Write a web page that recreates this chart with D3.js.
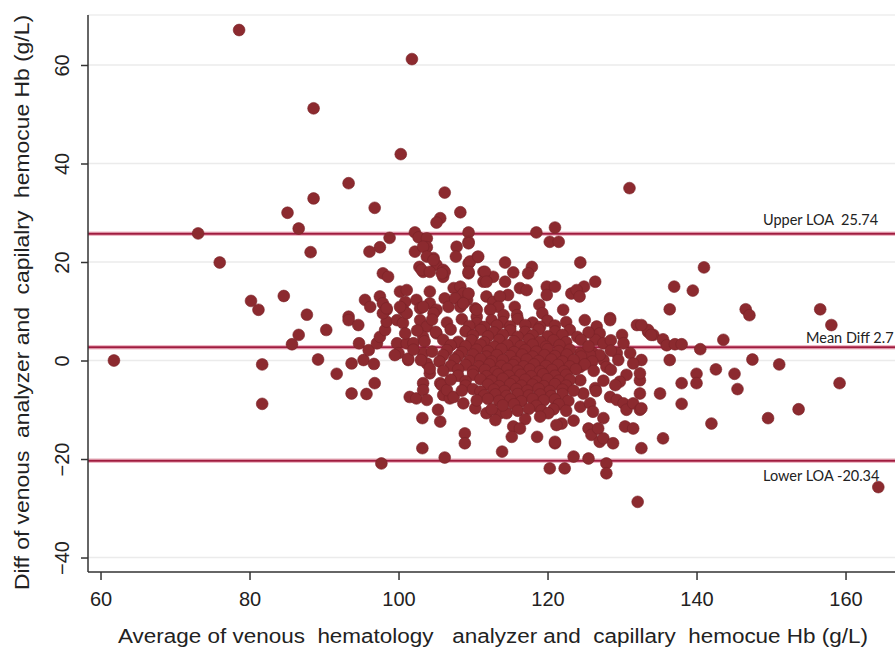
<!DOCTYPE html>
<html><head><meta charset="utf-8">
<script src="https://cdn.jsdelivr.net/npm/d3@7"></script>
<style>body{margin:0;background:#fff} svg{display:block}</style>
</head><body><svg id="c" width="895" height="648"></svg>
<script>
const xTicks=[60,80,100,120,140,160];
const yTicks=[-40,-20,0,20,40,60];
const loaValues=[25.74,2.7,-20.34];
const loaLabels=["Upper LOA  25.74","Mean Diff 2.7","Lower LOA -20.34"];
const xTitle="Average of venous  hematology   analyzer and  capillary  hemocue Hb (g/L)";
const yTitle="Diff of venous  analyzer and  capilalry  hemocue Hb (g/L)";

const pointsLeft=[[61.8,0],[73.1,25.8],[76,19.9],[78.6,67.1],[80.2,12.1],[81.2,10.3],[81.7,-0.8],[81.7,-8.8],[84.6,13.1],[85.1,30],[85.7,3.3],[86.6,5.2],[86.6,26.8],[87.7,9.3],[88.2,22],[88.6,32.9],[88.6,51.2],[89.2,0.2],[90.3,6.2],[91.7,-2.7],[93.3,36],[93.3,8.9],[93.3,8.2],[94.6,7.2],[94.7,3.5],[93.7,-0.6],[95.3,0.1],[93.7,-6.7],[95.7,-6.8],[95.5,12.3]];

const pointsUpper=[[96.2,10.9],[97.5,13],[97.9,11.6],[98.4,10.3],[96.8,31],[100.3,41.9],[101.8,61.2],[106.2,34.1],[108.3,30.1],[105.6,28.9],[105.1,28],[98.8,24.9],[97.5,23],[96.1,22.1],[102.2,26],[102.7,25],[103.8,24.8],[103.8,23],[102.2,22.1],[107.8,23.1],[107.7,21.1],[109.4,26],[109.4,24.1],[110.6,21],[104.7,20.8],[105.1,19.4],[106,18.4],[106,17],[102.8,19],[103.3,18],[109.4,19.7],[109.4,17.7],[97.9,17.7],[98.6,17],[100.2,14],[101.1,14.3],[100.9,11.9],[100.6,10.3],[102.4,12.3],[102.9,10.6],[104.2,14],[104.2,11.6],[105.1,10.3],[106.2,12.6],[106.7,10.9],[107.4,14.7],[108.3,15],[108.7,13.6],[109.2,12.3],[107.6,12.6],[108.3,10.9],[110.3,10.6],[110.5,8.9],
[131,35],[118.5,26],[121,27],[120.3,24.1],[121.5,24.1],[124.4,19.9],[126.4,16],[124.9,15],[114.3,19.9],[115.4,17.9],[111.4,18],[111.4,16],[112.7,17],[117.9,19],[117.4,17.7],[114.3,16],[114.7,13.3],[116.3,14.7],[117.2,14.3],[119.9,15],[121,15],[119.9,13.3],[123.2,13.6],[123.9,14.3],[124.3,13],[122.1,10.3],[118.9,11.3],[119.3,9.6],[128.4,8.6],[111.8,13],[112.7,11.9],[113.6,13],[113.4,10.9],[112.3,10.3],[114.1,9.2],[115.6,10.9],[115.9,9.2],[110.5,10.3],[109.4,13.6],[108.7,11.6],
[103.3,23.1],[103.8,21.1],[104.7,20.4],[106.2,18],[105.8,17.7],[103.1,18.4],[104.2,18],[109.4,23.8],[109.6,20.1],[109.4,18],[110.7,21.1],[111.6,18],[111.8,16]];

const pointsCore=[[96,2.1],[97.1,3.5],[97.5,4.8],[98.2,6.2],[98.4,7.9],[97.9,9.6],[98.4,10.6],[99.8,3.5],[100,1.5],[101.1,3.5],[101.3,0.1],[102,3.5],[99.8,8.2],[100.6,7.6],[100.9,5.5],[101.1,9.6],[100.2,10.9],[103.3,10.9],[102.9,8.2],[103.8,6.9],[103.3,4.8],[104.7,9.6],[105.1,5.5],[103.3,1.5],[103.8,-0.6],[104.2,-2.6],[103.3,-4.6],[101.5,-7.4],[102.4,-7.7],[103.3,-6],[103.8,-8],[96.8,-4.6],[96.7,-0.7],[99.5,1.1],[101.3,0.4],[104.2,-1.6],[105.6,-4.6],[106,-7],[106.9,-7.7],[105.8,-5],[106.5,-6],[107.4,-7.4],[108.7,-8.7],[110.3,-9.7],[105.3,-10],[105.6,-12.4],[103.2,-11.7],
[128.4,8.2],[132,7.2],[133.5,5.8],[134.2,5.2],[126.6,6.9],[127,5.5],[126.4,4.2],[127.5,3.5],[130,5.2],[130.2,3.5],[129.3,1.5],[131.1,1.5],[132.6,0.1],[131.5,-0.6],[126.1,1.5],[127.5,0.1],[127.9,-1.3],[124.4,1.5],[124.4,-1.3],[124.4,-4],[124.8,-6.7],[124.4,-9.4],[126.4,-5.6],[130.6,-2.9],[129.7,-4.3],[129.1,-5],[132.4,-4],[128.4,-7.4],[129.3,-8],[130.2,-8.7],[130.6,-10],[131.5,-8.7],[132.4,-10],[127,1.1],[125.7,1.1],[125.7,-8.7],[126.1,-10.4],[113.6,-10.7],[114.5,-10.7],[111.8,-10.7],
[104.5,8.3],[106.5,7.7],[108.5,8.4],[110.5,7.6],[112.5,8.2],[114,7.8],[116,8.4],[118,7.7],[120,8.1],[122.5,7.8],[125,8.2],
[109.5,7],[111.5,6.8],[113.2,7.1],[115,6.9],[117,7.2],[119,6.8],[121,7.1],
[102.5,6.1],[105,5.8],[107,6.3],[109,5.9],[111,6.2],[112.8,5.7],[115,6.1],[117,5.8],[118.8,6.3],[121,5.9],[123,6.2],[125.5,5.7],
[110,5.1],[112,4.9],[114,5.2],[116,4.8],[118,5.1],[120,4.9],[122,5.2],[124,4.8],
[103.5,3.9],[106,4.2],[108,3.8],[109.8,4.1],[111.5,3.7],[113.5,4.2],[115.5,3.9],[117.5,4.3],[119,3.8],[120.8,4.1],[122.5,3.7],[124.5,4.2],[128.5,4.1],
[107,3.1],[109,2.9],[111,3.2],[112.8,2.8],[114.6,3.1],[116.4,2.9],[118,3.2],[119.8,2.8],[121.6,3.1],[125.5,2.9],
[102,2.2],[104.5,1.8],[106.5,2.1],[108.5,1.7],[110.5,2.2],[112,1.9],[113.8,2.3],[115.5,1.7],[117,2.1],[118.5,1.8],[120,2.3],[121.5,1.9],[123,2.2],[128.5,2],
[106,1.1],[108,0.9],[110,1.2],[111.8,0.8],[113.2,1.1],[115,0.9],[116.6,1.2],[118,0.8],[119.6,1.1],[121,0.9],[122.6,1.2],[124.5,0.8],
[103,0.1],[105.5,-0.2],[107.5,0.2],[109.5,-0.1],[111,0.3],[112.5,-0.2],[114,0.1],[115.7,-0.3],[117.2,0.2],[118.8,-0.1],[120.5,0.2],[122,-0.2],[123.5,0.1],[126,-0.2],[129.5,0.1],
[107,-1.1],[109,-0.9],[110.8,-1.2],[112.2,-0.8],[113.8,-1.1],[115.4,-0.9],[116.8,-1.2],[118.2,-0.8],[119.8,-1.1],[121.4,-0.9],[123,-1.2],[125,-0.8],
[106,-2.1],[108,-1.8],[110,-2.2],[111.6,-1.9],[113,-2.3],[114.6,-1.7],[116,-2.1],[117.6,-1.8],[119,-2.2],[120.6,-1.9],[122.2,-2.2],[123.8,-1.8],[126.2,-2.1],[128.5,-1.9],
[108,-3.1],[110,-2.9],[111.8,-3.2],[113.4,-2.8],[114.8,-3.1],[116.4,-2.9],[117.8,-3.2],[119.4,-2.8],[121,-3.1],[122.5,-2.9],
[107,-3.9],[109,-4.2],[111,-3.8],[112.5,-4.1],[114,-3.7],[115.5,-4.2],[117,-3.9],[118.5,-4.3],[120,-3.8],[121.5,-4.1],[123,-3.9],[127.5,-4.1],
[109,-5.1],[112,-4.9],[113.5,-5.2],[115,-4.8],[116.5,-5.1],[118,-4.9],[119.5,-5.2],[121,-4.8],[122.5,-5.1],
[108.5,-6.1],[110,-5.8],[111,-6.3],[112.8,-5.9],[114.2,-6.2],[115.8,-5.8],[117.3,-6.1],[118.8,-5.7],[120.3,-6.2],[122,-5.9],[123.5,-6.1],[126.5,-6.2],
[111.5,-7.1],[113,-6.9],[114.5,-7.2],[116,-6.8],[117.5,-7.1],[119,-6.9],[120.5,-7.2],[122,-6.8],
[110.5,-8.1],[112,-7.8],[113.5,-8.2],[115,-7.9],[116.5,-8.3],[118,-7.8],[119.5,-8.1],[121,-7.9],[122.8,-8.2],
[114,-9.1],[115.5,-8.9],[118.5,-9.2],[121.5,-8.9],
[112.5,-9.9],[116,-10.2],[117.5,-9.8],[119.2,-10.1],[120.8,-9.9],[122.5,-10.2],
[113,-12.1],[117,-11.9],[123.5,-12.2]];

const pointsLower=[[115.4,-13.4],[116.3,-13.8],[115.2,-15.5],[118.6,-15.5],[121,-16.8],[121.9,-12.8],[120.1,-10.7],[119,-11.4],[121.2,-13.1],[113.9,-18.5],[127.5,-11.7],[130.4,-13.4],[131.5,-13.8],[125.5,-13.8],[125.9,-15.1],[126.8,-13.8],[127,-16.5],[127.5,-15.8],[128.8,-16.8],[132.6,-17.8],[123.5,-19.5],[125.5,-19.9],[127.9,-20.9],[127.9,-22.9],[120.3,-21.9],[122.3,-21.9],[132.1,-28.7],[108.9,-14.8],[108.9,-16.8],[106.2,-19.7],[103.2,-17.8],[97.7,-20.9],[121,-16.5]];

const pointsRight=[[141,18.9],[137,15],[139.5,14.2],[136.4,10.4],[146.6,10.4],[147.1,9.2],[156.6,10.4],[158.1,7.2],[143.6,4.2],[133.5,6.2],[133.9,5.2],[132.6,7.2],[135.5,4.3],[136,3.1],[137.1,3.3],[138,3.3],[140.5,2.3],[136.4,0.1],[132.4,-2.6],[147.5,0.2],[151.1,-0.8],[140,-2.7],[140,-4.6],[142.6,-1.8],[145.1,-2.7],[145.5,-5.8],[138,-4.6],[135.1,-6.7],[132.4,-6.7],[132.6,-9.7],[138,-8.8],[159.2,-4.6],[153.7,-9.9],[149.6,-11.7],[142,-12.8],[135.5,-15.8],[164.4,-25.7]];

const allPoints=[...pointsLeft,...pointsUpper,...pointsCore,...pointsLower,...pointsRight];

const svg=d3.select("#c");
const L=88,R=895,T=15,B=572;
const x=d3.scaleLinear().domain([58.32,166.64]).range([L,R]);
const y=d3.scaleLinear().domain([-42.94,70.15]).range([B,T]);
const font="'Liberation Sans', Arial, sans-serif";

svg.append("line").attr("x1",L).attr("x2",R).attr("y1",T).attr("y2",T).attr("stroke","#eeeeee").attr("stroke-width",1.5);

svg.append("g").selectAll("line").data(yTicks).join("line")
  .attr("x1",L).attr("x2",R).attr("y1",d=>y(d)).attr("y2",d=>y(d))
  .attr("stroke","#ebebeb").attr("stroke-width",1.5);

const loaG=svg.append("g");
loaG.selectAll("line.h").data(loaValues).join("line").attr("class","h")
  .attr("x1",L).attr("x2",R).attr("y1",d=>y(d)).attr("y2",d=>y(d))
  .attr("stroke","#efb9c6").attr("stroke-width",4.5);
loaG.selectAll("line.m").data(loaValues).join("line").attr("class","m")
  .attr("x1",L).attr("x2",R).attr("y1",d=>y(d)).attr("y2",d=>y(d))
  .attr("stroke","#a01c3f").attr("stroke-width",2);

svg.append("g").selectAll("circle").data(allPoints).join("circle")
  .attr("cx",d=>x(d[0])).attr("cy",d=>y(d[1])).attr("r",5.9)
  .attr("fill","#8c2a2f").attr("stroke","#7a2328").attr("stroke-width",0.6);

const labX=[763,806,763], labDy=[-9,-4,20];
svg.append("g").selectAll("text").data(loaLabels).join("text")
  .attr("x",(d,i)=>labX[i]).attr("y",(d,i)=>y(loaValues[i])+labDy[i])
  .attr("font-family","Lato, 'Open Sans', sans-serif").attr("font-size",14.5)
  .attr("fill","#222").style("white-space","pre").text(d=>d);

const yAxis=svg.append("g").attr("transform",`translate(${L},0)`)
  .call(d3.axisLeft(y).tickValues(yTicks).tickSize(7).tickPadding(4));
yAxis.select(".domain").attr("stroke","#333").attr("stroke-width",1.5).attr("d",`M0,${T}V${B}`);
yAxis.selectAll(".tick line").attr("stroke","#333").attr("stroke-width",1.5);
yAxis.selectAll(".tick text").remove();
yAxis.selectAll(".tick").append("text")
  .attr("transform","translate(-19,0) rotate(-90)")
  .attr("text-anchor","middle").attr("fill","#222")
  .attr("font-family",font).attr("font-size",20)
  .text(d=>d3.format("")(d).replace("-","\u2212"));

const xAxis=svg.append("g").attr("transform",`translate(0,${B})`)
  .call(d3.axisBottom(x).tickValues(xTicks).tickSize(8).tickPadding(12));
xAxis.select(".domain").attr("stroke","#333").attr("stroke-width",1.5).attr("d",`M${L},0H${R}`);
xAxis.selectAll(".tick line").attr("stroke","#333").attr("stroke-width",1.5);
xAxis.selectAll(".tick text").attr("font-family",font).attr("font-size",20).attr("fill","#222");

svg.append("text").attr("x",118).attr("y",643)
  .attr("font-family",font).attr("font-size",20).attr("fill","#222")
  .attr("textLength",750).attr("lengthAdjust","spacingAndGlyphs")
  .style("white-space","pre").text(xTitle);
svg.append("text").attr("transform","translate(29,590) rotate(-90)")
  .attr("font-family",font).attr("font-size",20).attr("fill","#222")
  .attr("textLength",575).attr("lengthAdjust","spacingAndGlyphs")
  .style("white-space","pre").text(yTitle);
</script></body></html>
